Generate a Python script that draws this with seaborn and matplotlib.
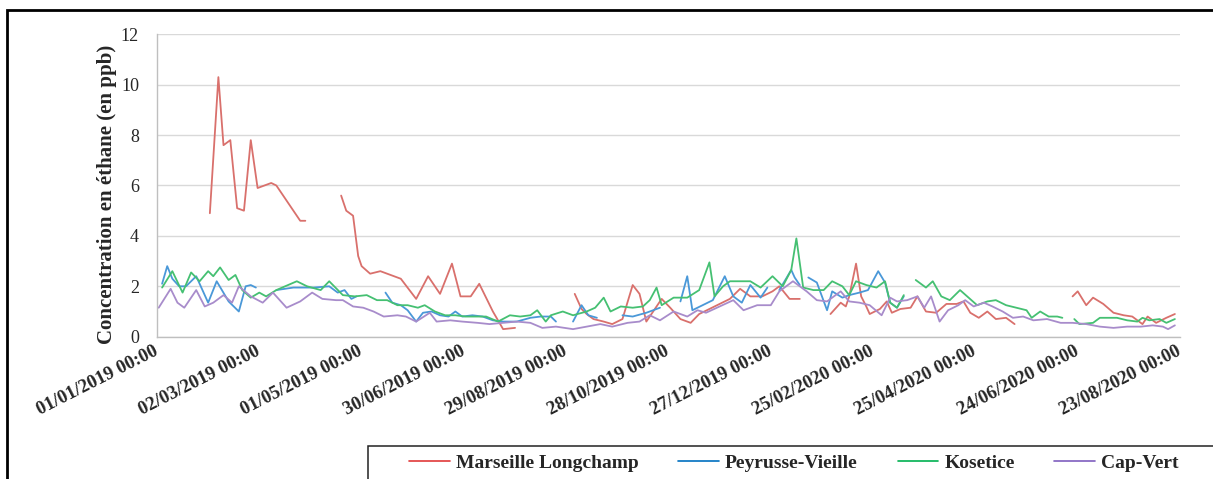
import numpy as np
import pandas as pd
import matplotlib.pyplot as plt
import seaborn as sns
from matplotlib.lines import Line2D
from matplotlib.patches import Rectangle

nan = np.nan

# --- data: days after 01/01/2019, nan marks a gap in the record ---
marseille_days = [31, 36, 39, 43, 47, 51, 55, 59, 67, 70, 76, 84, 87, nan,
                  108, 111, 115, 118, 120, 125, 131, 143, 152, 159, 166, 173, 178, 184, 189, 197, 203, 210, nan,
                  245, 249, 252, 256, 262, 267, 273, 279, 283, 287, 292, 296, 301, 307, 313, 318, 324, 330,
                  336, 342, 348, 355, 361, 365, 371, 377, nan,
                  395, 401, 404, 406, 410, 413, 416, 418, 424, 428, 431, 436, 442, 446, 451, 457, 463, 469,
                  473, 477, 482, 487, 492, 498, 503, nan,
                  537, 540, 545, 549, 555, 561, 567, 572, 578, 581, 586, 592, 597]
marseille_vals = [4.9, 10.3, 7.6, 7.8, 5.1, 5.0, 7.8, 5.9, 6.1, 6.0, 5.4, 4.6, 4.6, nan,
                  5.6, 5.0, 4.8, 3.2, 2.8, 2.5, 2.6, 2.3, 1.5, 2.4, 1.7, 2.9, 1.6, 1.6, 2.1, 1.0, 0.3, 0.35, nan,
                  1.7, 1.1, 0.9, 0.7, 0.6, 0.5, 0.7, 2.05, 1.7, 0.6, 1.1, 1.5, 1.15, 0.7, 0.55, 0.9, 1.1, 1.3,
                  1.5, 1.9, 1.6, 1.6, 1.8, 2.0, 1.5, 1.5, nan,
                  0.9, 1.35, 1.2, 1.6, 2.9, 1.6, 1.2, 0.9, 1.1, 1.4, 0.95, 1.1, 1.15, 1.6, 1.0, 0.95, 1.3, 1.3,
                  1.4, 0.95, 0.75, 1.0, 0.7, 0.75, 0.5, nan,
                  1.6, 1.8, 1.25, 1.55, 1.3, 0.95, 0.85, 0.8, 0.5, 0.8, 0.55, 0.75, 0.9]

peyrusse_days = [3, 6, 9, 13, 17, 23, 30, 35, 42, 48, 52, 55, 58, nan,
                 70, 80, 92, 101, 106, 110, 114, 117, nan,
                 134, 138, 143, 147, 152, 156, 161, 166, 171, 175, 179, 185, 191, 197, 203, 211, 219, 225, 231, 234, nan,
                 244, 249, 253, 258, nan,
                 273, 279, 287, 295, nan,
                 307, 311, 314, 320, 326, 333, 338, 343, 348, 354, 358, nan,
                 365, 372, 374, 377, nan,
                 382, 387, 393, 396, 402, 406, 412, 417, 423, 427, 430, 434, 438]
peyrusse_vals = [2.1, 2.8, 2.3, 2.0, 2.0, 2.4, 1.35, 2.2, 1.4, 1.0, 2.0, 2.05, 1.95, nan,
                 1.85, 1.95, 1.95, 2.0, 1.75, 1.85, 1.5, 1.6, nan,
                 1.75, 1.35, 1.25, 1.05, 0.6, 0.95, 1.0, 0.85, 0.8, 1.0, 0.8, 0.85, 0.8, 0.65, 0.6, 0.6, 0.75, 0.8, 0.8, 0.6, nan,
                 0.6, 1.25, 0.85, 0.75, nan,
                 0.85, 0.8, 0.95, 1.15, nan,
                 1.4, 2.4, 1.05, 1.25, 1.45, 2.4, 1.6, 1.35, 2.05, 1.55, 1.95, nan,
                 1.85, 2.65, 2.35, 2.05, nan,
                 2.35, 2.15, 1.05, 1.8, 1.55, 1.65, 1.75, 1.85, 2.6, 2.15, 1.35, 1.15, 1.6]

kosetice_days = [3, 9, 15, 20, 25, 30, 33, 37, 42, 46, 50, 55, 60, 64, 70, 82, 88, 96, 101, 109,
                 116, 123, 129, 135, 141, 147, 153, 157, 163, 169, 175, 181, 188, 193, 200, 207, 213, 219, 223, 228,
                 231, 238, 244, 252, 257, 262, 266, 272, 279, 285, 289, 293, 296, 303, 311, 318, 324, 327, 332, 336,
                 342, 348, 354, 361, 367, 372, 375, 379, 385, 391, 396, 402, 406, 410, 416, 422, 427, 430, 434, 438, nan,
                 445, 451, 455, 460, 465, 471, 476, 481, 487, 492, 498, 504, 510, 513, 518, 523, 528, 531, nan,
                 538, 541, 549, 553, 563, 569, 575, 578, 582, 588, 592, 597]
kosetice_vals = [1.95, 2.6, 1.75, 2.55, 2.2, 2.6, 2.4, 2.75, 2.25, 2.45, 1.85, 1.55, 1.75, 1.6, 1.85, 2.2, 2.0, 1.85, 2.2, 1.65,
                 1.6, 1.65, 1.45, 1.45, 1.25, 1.25, 1.15, 1.25, 1.0, 0.85, 0.85, 0.8, 0.8, 0.8, 0.6, 0.85, 0.8, 0.85, 1.05, 0.6,
                 0.85, 1.0, 0.85, 1.0, 1.15, 1.55, 1.0, 1.2, 1.15, 1.2, 1.45, 1.95, 1.25, 1.55, 1.55, 1.85, 2.95, 1.6, 2.0, 2.2,
                 2.2, 2.2, 1.95, 2.4, 2.0, 2.65, 3.9, 1.95, 1.85, 1.85, 2.2, 2.0, 1.65, 2.2, 2.05, 1.95, 2.2, 1.35, 1.15, 1.65, nan,
                 2.25, 1.95, 2.2, 1.6, 1.45, 1.85, 1.55, 1.25, 1.4, 1.45, 1.25, 1.15, 1.05, 0.75, 1.0, 0.8, 0.8, 0.75, nan,
                 0.7, 0.5, 0.55, 0.75, 0.75, 0.65, 0.6, 0.75, 0.65, 0.7, 0.55, 0.7]

capvert_days = [1, 8, 12, 16, 23, 28, 33, 39, 44, 48, 55, 62, 68, 76, 84, 91, 97, 105, 109, 115,
                121, 127, 133, 141, 146, 152, 160, 164, 172, 179, 188, 195, 203, 211, 219, 226, 234, 244, 252, 260,
                267, 276, 283, 289, 295, 303, 311, 317, 322, 330, 338, 344, 352, 360, 365, 373, 381, 387, 393, 401,
                406, 412, 418, 425, 430, 434, 440, 446, 450, 454, 459, 464, 470, 474, 479, 485, 490, 496, 502, 508,
                514, 522, 530, 537, 545, 553, 561, 569, 577, 584, 590, 593, 597]
capvert_vals = [1.15, 1.9, 1.35, 1.15, 1.85, 1.2, 1.35, 1.65, 1.35, 2.0, 1.6, 1.35, 1.75, 1.15, 1.4, 1.75, 1.5, 1.45, 1.45, 1.2,
                1.15, 1.0, 0.8, 0.85, 0.8, 0.6, 0.95, 0.6, 0.65, 0.6, 0.55, 0.5, 0.55, 0.6, 0.55, 0.35, 0.4, 0.3, 0.4, 0.5,
                0.4, 0.55, 0.6, 0.85, 0.65, 1.0, 0.8, 1.05, 0.95, 1.2, 1.45, 1.05, 1.25, 1.25, 1.8, 2.2, 1.8, 1.45, 1.4, 1.8,
                1.4, 1.35, 1.25, 0.85, 1.55, 1.4, 1.45, 1.6, 1.15, 1.6, 0.6, 1.05, 1.25, 1.45, 1.2, 1.35, 1.2, 1.0, 0.75, 0.8,
                0.65, 0.7, 0.55, 0.55, 0.5, 0.4, 0.35, 0.4, 0.4, 0.45, 0.4, 0.3, 0.45]

stations = ['Marseille Longchamp', 'Peyrusse-Vieille', 'Kosetice', 'Cap-Vert']
line_colors = ['#d9706c', '#4a98d8', '#45c072', '#a88ccb']     # lines in the plot (light)
legend_colors = ['#e03a3a', '#0070c0', '#00b050', '#7f5fbf']   # legend swatches
tick_days = [0, 60, 120, 180, 240, 300, 360, 420, 480, 540, 600]

# --- build one long table, one segment id per unbroken run ---
start = pd.Timestamp('2019-01-01')
frames = []
for name, days, vals in zip(stations,
                            [marseille_days, peyrusse_days, kosetice_days, capvert_days],
                            [marseille_vals, peyrusse_vals, kosetice_vals, capvert_vals]):
    d = pd.DataFrame({'day': days, 'conc': vals})
    d['seg'] = name + d['day'].isna().cumsum().astype(str)
    d = d.dropna()
    d['date'] = start + pd.to_timedelta(d['day'], unit='D')
    d['station'] = name
    frames.append(d)
df = pd.concat(frames, ignore_index=True)

sns.set_style('white')
plt.rcParams['font.family'] = ['Liberation Serif', 'DejaVu Serif']

fig = plt.figure(figsize=(12.13, 4.79), dpi=100)
ax = fig.add_axes([157 / 1213, 1 - 336.7 / 479, 1023 / 1213, 302.4 / 479])

sns.lineplot(data=df, x='date', y='conc', hue='station', units='seg', estimator=None,
             palette=dict(zip(stations, line_colors)), hue_order=stations,
             linewidth=1.3, legend=False, ax=ax)

ax.set_ylim(0, 12)
ax.set_yticks(range(0, 13, 2))
ax.set_xlim(start, start + pd.Timedelta(days=600))
ticks = [start + pd.Timedelta(days=t) for t in tick_days]
ax.set_xticks(ticks)
ax.set_xticklabels([t.strftime('%d/%m/%Y %H:%M') for t in ticks], rotation=27, ha='right',
                   va='center', rotation_mode='anchor', fontweight='bold', fontsize=13.5)
ax.tick_params(axis='x', length=0, pad=10)
ax.tick_params(axis='y', length=0, pad=13, labelsize=13)
ax.grid(axis='y', color='#d9d9d9', linewidth=1)
ax.grid(axis='x', visible=False)
for side in ['top', 'right']:
    ax.spines[side].set_visible(False)
for side in ['left', 'bottom']:
    ax.spines[side].set_color('#bfbfbf')
    ax.spines[side].set_linewidth(1)

ax.set_xlabel('')
ax.set_ylabel('Concentration en éthane (en ppb)', fontweight='bold', fontsize=15)
ax.yaxis.set_label_coords(-0.039, 0.47)

# legend box (cut by the bottom/right edge like the original)
fig.patches.append(Rectangle((368 / 1213, -0.2), 1.0, 1 - 446 / 479 + 0.2, transform=fig.transFigure,
                             fill=False, edgecolor='#222222', linewidth=1.1, clip_on=False))
handles = [Line2D([0], [0], color=c, lw=1.2) for c in legend_colors]
fig.legend(handles, stations, loc='upper left', bbox_to_anchor=(409 / 1213, 1 - 454 / 479),
           bbox_transform=fig.transFigure, ncol=4, frameon=False, borderpad=0, borderaxespad=0,
           handlelength=2.1, handletextpad=0.3, columnspacing=2.05,
           prop={'weight': 'bold', 'size': 14})

# outer frame of the picture
fig.patches.append(Rectangle((7 / 1213, -0.2), 1.2, 1 - 10 / 479 + 0.2, transform=fig.transFigure,
                             fill=False, edgecolor='black', linewidth=2, clip_on=False))

fig.savefig('out.png', dpi=100)
